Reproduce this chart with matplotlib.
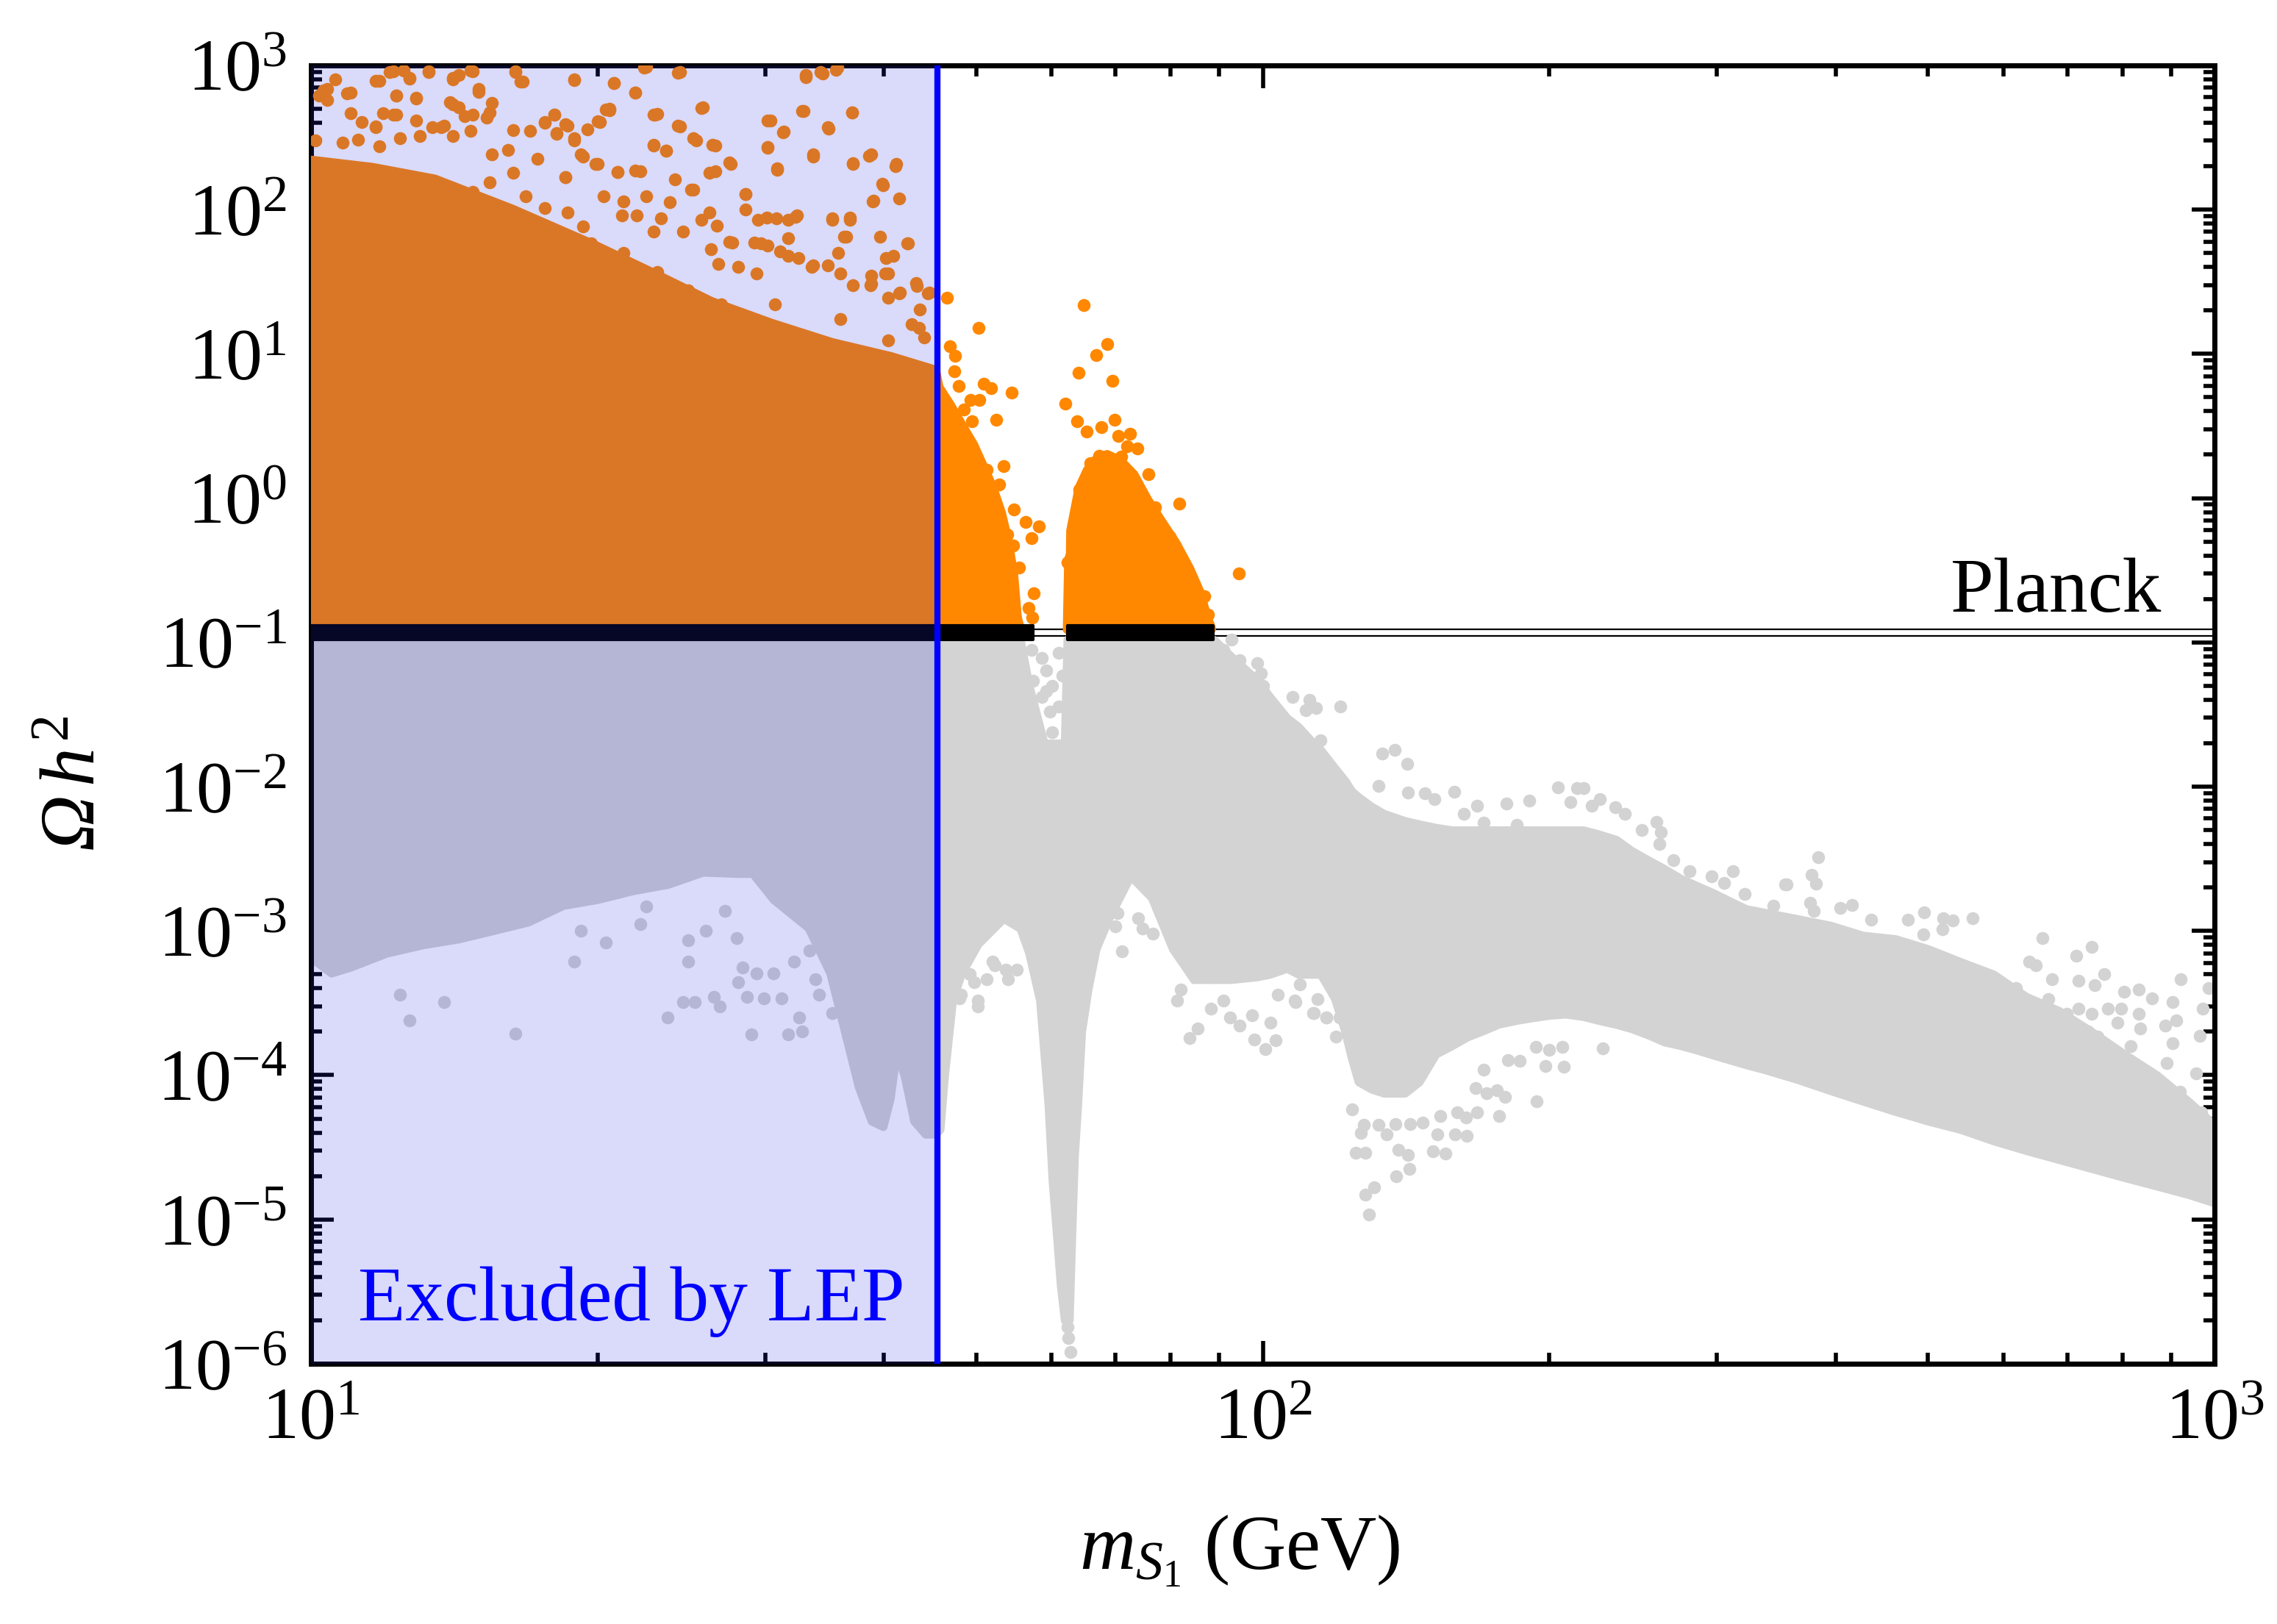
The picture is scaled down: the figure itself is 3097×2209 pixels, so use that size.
import numpy as np
import matplotlib
matplotlib.use("Agg")
import matplotlib.pyplot as plt
from matplotlib.ticker import LogLocator, NullFormatter

plt.rcParams['font.family'] = ['Liberation Serif', 'DejaVu Serif']
plt.rcParams['mathtext.fontset'] = 'custom'
plt.rcParams['mathtext.rm'] = 'Liberation Serif'
plt.rcParams['mathtext.it'] = 'Liberation Serif:italic'
plt.rcParams['mathtext.bf'] = 'Liberation Serif:bold'
plt.rcParams['mathtext.cal'] = 'Liberation Serif:italic'   # used for the italic Omega
plt.rcParams['axes.unicode_minus'] = False

# ---- data ---------------------------------------------------------------
planck_lo, planck_hi = 0.111, 0.123
lep_limit = 45.5

# dense grey cloud (below Planck), light side: mass, lower edge, upper edge
gray_l_m = [10.0, 10.5, 11.0, 12.0, 13.1, 14.3, 15.5, 16.9, 18.4, 20.0, 21.8, 23.7,
            25.8, 28.1, 29.1, 30.6, 33.3, 35.1, 36.3, 37.6, 38.8, 39.9, 40.6, 41.2,
            42.0, 43.0, 44.2, 45.3, 45.8, 46.3, 47.2, 48.2, 50.2, 53.4, 55.6, 56.8,
            58.3, 58.9, 59.5, 60.1, 60.7, 61.3, 61.9, 62.3, 62.6, 63.0, 63.4, 63.9,
            64.5, 65.5, 66.8, 68.9, 72.6, 76.4, 80.4, 84.6]
gray_l_lo = [6.5e-4, 5.1e-4, 5.6e-4, 7.0e-4, 8.0e-4, 8.8e-4, 1.0e-3, 1.15e-3, 1.5e-3,
             1.65e-3, 1.9e-3, 2.1e-3, 2.55e-3, 2.5e-3, 2.5e-3, 1.65e-3, 1.05e-3, 5.1e-4,
             2.1e-4, 8.3e-5, 4.8e-5, 4.4e-5, 6.9e-5, 1.43e-4, 1.0e-4, 4.8e-5, 3.9e-5,
             3.9e-5, 4.2e-5, 1.0e-4, 3.3e-4, 5.0e-4, 8.1e-4, 1.22e-3, 1.04e-3, 7.0e-4,
             3.3e-4, 1.44e-4, 6.3e-5, 1.84e-5, 8.1e-6, 3.5e-6, 2.0e-6, 2.0e-6, 2.0e-6,
             8.1e-6, 2.8e-5, 6.3e-5, 2.0e-4, 3.9e-4, 7.5e-4, 1.22e-3, 2.4e-3, 1.7e-3,
             7.5e-4, 4.6e-4]
gray_l_hi = [0.105] * 35 + [0.05, 0.026, 0.02, 0.02, 0.02, 0.02, 0.02, 0.02] + [0.105] * 13

# dense grey cloud, heavy side
gray_r_m = [88.9, 92.6, 98.6, 101.7, 106, 109, 113, 115, 119, 122,
            124, 126, 130, 134, 141, 146, 152, 158, 164, 171,
            177, 185, 192, 200, 208, 217, 225, 235, 244, 254,
            264, 275, 286, 297, 310, 322, 337, 365, 395, 427,
            462, 500, 541, 586, 634, 686, 743, 804, 870, 941, 1000]
gray_r_lo = [4.6e-4, 4.6e-4, 4.8e-4, 5.0e-4, 5.5e-4, 5.0e-4, 5.0e-4, 5.0e-4, 3.4e-4, 2.0e-4,
             1.3e-4, 9.0e-5, 8.0e-5, 7.5e-5, 7.5e-5, 9.0e-5, 1.4e-4, 1.6e-4, 1.84e-4, 2.05e-4,
             2.26e-4, 2.4e-4, 2.5e-4, 2.6e-4, 2.65e-4, 2.55e-4, 2.4e-4, 2.25e-4, 2.1e-4, 1.9e-4,
             1.7e-4, 1.6e-4, 1.49e-4, 1.38e-4, 1.27e-4, 1.18e-4, 1.09e-4, 9.3e-5, 7.8e-5, 6.6e-5,
             5.6e-5, 4.8e-5, 4.2e-5, 3.5e-5, 3.0e-5, 2.6e-5, 2.25e-5, 1.95e-5, 1.7e-5, 1.48e-5,
             1.3e-5]
gray_r_hi = [0.104, 0.080, 0.055, 0.042, 0.030, 0.026, 0.020, 0.018, 0.0135, 0.011,
             9.3e-3, 8.5e-3, 7.3e-3, 6.5e-3, 5.8e-3, 5.5e-3, 5.2e-3, 5.0e-3, 5.0e-3, 5.0e-3,
             5.0e-3, 5.0e-3, 5.0e-3, 5.0e-3, 5.0e-3, 5.0e-3, 4.7e-3, 4.3e-3, 3.6e-3, 3.1e-3,
             2.7e-3, 2.3e-3, 2.05e-3, 1.84e-3, 1.6e-3, 1.42e-3, 1.34e-3, 1.21e-3, 1.09e-3, 9.3e-4,
             8.8e-4, 7.5e-4, 6.1e-4, 5.0e-4, 3.5e-4, 2.8e-4, 2.0e-4, 1.4e-4, 1.0e-4, 6.5e-5,
             4.5e-5]

# loose grey points around the dense region
gray_pts_m = [57.1, 58.6, 59.2, 61.0, 60.1, 58.6, 61.0, 59.7, 60.1, 59.2, 57.4, 61.6,
              92.7, 90.9, 94.6, 99.6, 100, 98.6, 107.5, 112, 110.9, 113.7, 120.6,
              48.2, 49.2, 50.2, 51.3, 52.0, 54.0, 55.1, 48.0, 50.2, 52.3, 53.7, 49.7,
              83.7, 85.4, 88.2, 92.3, 94.6, 97.9, 100.6, 103.2, 101.8, 97.5, 90.9, 81.2,
              82.0, 103.7, 108, 113.2, 116.7, 120.8, 70.0, 71.1, 74.8, 76.7, 70.4, 74.0,
              # 110-230 GeV, below
              124.1, 128.2, 125.2, 130.8, 128.2, 129.2, 138.1, 142.5, 142.1, 138.8, 151,
              155.6, 152.6, 159.2, 163.9, 135, 126.7, 127.6, 132.3, 137.8, 142.7, 147.2,
              153.7, 160.1, 163.6, 167.9, 177, 194, 179.6, 171.8, 167.2, 176.1, 170.6,
              186.2, 181.1, 198.3, 207.3, 227.7, 206.4, 199.8, 193.7, 119.4, 120.3, 116.6,
              112.9, 108.3, 114.1, 109.4,
              # 110-360 GeV, above
              115, 133.5, 137.5, 141.9, 132.4, 142.1, 148, 151.5, 158.8, 204.2, 213.9,
              217.4, 180.2, 190.4, 226, 210.6, 221.8, 234.6, 240, 259, 250, 262, 261, 270,
              312, 354, 321, 296, 305, 281, 344, 167.9, 162.6, 170.6, 184.8,
              # 350-1000 GeV
              383, 377, 381, 355, 376, 379, 404, 416, 436, 476, 495, 519, 531, 557, 518,
              494, 659, 743, 716, 766, 921, 859, 832, 772, 797, 832, 790, 835, 887, 912,
              904, 816, 754, 736, 705, 699, 719, 743, 669, 664, 654, 586, 604, 619, 639,
              649, 675, 719, 748, 804, 754, 794, 826, 891, 920, 883, 855, 835, 778, 736,
              713, 948, 968, 986, 964, 920, 883, 956, 964, 972, 986, 903,
              # inside the LEP band
              12.4, 12.7, 13.8, 16.4, 18.9, 19.2, 20.4, 22.2, 22.5, 23.7, 24.6, 25.3, 24.9,
              24.9, 26.5, 26.9, 28.1, 28.0, 28.7, 29.0, 29.9, 30.6, 31.2, 31.7, 32.6, 32.8,
              33.9, 34.2, 35.3, 32.2, 33.4, 28.4, 29.4, 26.0, 27.2, 62.5, 62.8, 62.3]
gray_pts_om = [0.089, 0.078, 0.064, 0.085, 0.050, 0.042, 0.036, 0.033, 0.0237, 0.046,
               0.054, 0.059,
               0.104, 0.089, 0.075, 0.061, 0.050, 0.072, 0.042, 0.040, 0.034, 0.035, 0.036,
               3.6e-4, 5.0e-4, 3.3e-4, 4.6e-4, 6.1e-4, 4.6e-4, 5.4e-4, 3.4e-4, 3.0e-4,
               5.8e-4, 5.4e-4, 4.4e-4,
               1.8e-4, 2.1e-4, 2.9e-4, 2.5e-4, 2.2e-4, 1.77e-4, 1.52e-4, 1.75e-4, 2.3e-4,
               2.6e-4, 3.3e-4, 3.3e-4, 3.9e-4, 3.6e-4, 3.3e-4, 2.7e-4, 2.5e-4, 2.5e-4,
               1.08e-3, 7.2e-4, 1.04e-3, 9.6e-4, 1.33e-3, 1.22e-3,
               5.8e-5, 2.9e-5, 2.9e-5, 1.66e-5, 1.48e-5, 1.08e-5, 1.98e-5, 2.25e-5, 2.8e-5,
               3.05e-5, 2.96e-5, 2.87e-5, 3.9e-5, 3.9e-5, 3.8e-5, 3.9e-5, 4.0e-5, 4.5e-5,
               4.5e-5, 4.6e-5, 4.6e-5, 4.7e-5, 5.2e-5, 5.5e-5, 5.1e-5, 5.5e-5, 5.2e-5,
               6.6e-5, 7.1e-5, 7.5e-5, 8.1e-5, 7.9e-5, 1.09e-4, 1.26e-4, 1.27e-4, 1.16e-4,
               1.15e-4, 1.54e-4, 1.57e-4, 1.49e-4, 1.57e-4, 1.84e-4, 2.5e-4, 2.5e-4,
               2.7e-4, 3.2e-4, 3.35e-4, 4.24e-4,
               0.021, 0.0170, 0.0180, 0.0143, 0.0101, 9.1e-3, 9.0e-3, 8.2e-3, 9.2e-3,
               9.9e-3, 9.8e-3, 9.8e-3, 7.6e-3, 8.0e-3, 8.2e-3, 7.8e-3, 7.4e-3, 7.2e-3,
               6.5e-3, 5.7e-3, 5.0e-3, 4.85e-3, 4.0e-3, 3.1e-3, 2.6e-3, 2.1e-3, 1.81e-3,
               2.4e-3, 2.15e-3, 2.6e-3, 1.49e-3, 7.4e-3, 6.5e-3, 5.6e-3, 5.4e-3,
               3.24e-3, 2.45e-3, 2.13e-3, 2.1e-3, 1.57e-3, 1.38e-3, 1.44e-3, 1.51e-3, 1.2e-3,
               1.2e-3, 1.34e-3, 1.23e-3, 1.18e-3, 1.23e-3, 1.03e-3, 9.5e-4, 8.9e-4, 7.7e-4,
               6.7e-4, 5.0e-4, 4.6e-4, 3.4e-4, 3.9e-4, 2.9e-4, 2.9e-4, 2.65e-4, 2.3e-4,
               2.1e-4, 2.2e-4, 2.4e-4, 1.67e-4, 1.59e-4, 1.84e-4, 2.0e-4, 2.0e-4, 2.65e-4,
               2.9e-4, 2.65e-4, 3.35e-4, 2.65e-4, 3.0e-4, 2.9e-4, 3.4e-4, 4.0e-4, 6.1e-4,
               5.8e-4, 4.6e-4, 4.5e-4, 4.2e-4, 3.8e-4, 1.21e-4, 1.09e-4, 1.18e-4, 1.21e-4,
               7.7e-5, 6.4e-5, 6.1e-5, 6.4e-5, 8.8e-5, 1.34e-4, 1.57e-4, 5.5e-5, 5.5e-5,
               4.5e-5, 3.4e-5, 3.8e-5, 4.6e-5, 1.03e-4, 1.88e-4, 2.9e-4, 4.0e-4, 3.2e-4,
               3.6e-4, 2.4e-4, 3.2e-4, 1.93e-4, 6.1e-4, 1.0e-3, 8.3e-4, 1.12e-3, 1.48e-3,
               2.5e-4, 3.2e-4, 3.2e-4, 6.1e-4, 8.6e-4, 3.5e-4, 3.0e-4, 4.4e-4, 8.9e-4,
               3.5e-4, 1.91e-4, 3.4e-4, 5.1e-4, 3.4e-4, 1.91e-4, 2.5e-4, 2.0e-4, 4.6e-4,
               3.6e-4, 2.7e-4, 6.1e-4, 7.3e-4, 5.6e-4, 5.1e-4, 1.0e-3, 1.38e-3,
               1.5e-6, 1.2e-6, 1.8e-6]

# dense orange cloud (above Planck): solid core and speckled fringe
orange_a_m = [10.0, 11.6, 13.5, 16.3, 19.8, 22.9, 26.4, 30.5, 35.3, 40.7, 45.5,
              45.9, 47.2, 48.5, 49.9, 51.3, 52.3, 53.4, 54.3, 55.0, 55.6]
orange_a_top = [100, 87, 68, 42, 25.7, 14, 7.6, 4.0, 2.9, 2.15, 1.6,
                2.5, 2.2, 1.9, 1.4, 1.1, 0.75, 0.45, 0.26, 0.165, 0.127]
orange_a_fringe = [230, 205, 170, 105, 60, 38, 24, 17, 12.5, 10, 8,
                   6.0, 4.5, 3.3, 2.4, 1.6, 1.2, 0.8, 0.5, 0.3, 0.13]
orange_b_m = [62.2, 62.4, 63.7, 65.0, 66.8, 68.6, 71.0, 73.5, 76.0, 78.7, 81.4, 84.2,
              86.5, 88.3]
orange_b_top = [0.127, 0.38, 0.55, 0.75, 0.84, 0.88, 0.88, 0.75, 0.55, 0.45, 0.34,
                0.24, 0.18, 0.127]
orange_b_fringe = [0.13, 0.6, 1.2, 1.6, 2.0, 2.1, 1.9, 1.5, 1.0, 0.7, 0.5,
                   0.33, 0.22, 0.13]

# loose orange points
orange_pts_m = [10.2, 10.4, 10.9, 11.7, 12.2, 12.7, 13.3, 14.1, 14.7, 15.0, 16.4, 16.7,
                18.9, 20.8, 21.9, 22.5, 24.4, 33.1, 34.3, 35.7, 12.3, 12.9, 14.0, 14.3,
                14.8, 15.4, 17.6, 18.0, 18.5, 20.0, 20.4, 20.6, 22.9, 23.1, 25.8, 30.2,
                31.3, 32.8, 34.9, 37.0, 10.1, 10.8, 11.2, 11.7, 11.8, 12.2, 12.4, 13.0,
                13.7, 14.1, 14.7, 15.5, 16.1, 17.0, 17.3, 18.1, 18.5, 18.9, 19.2, 19.9,
                21.0, 21.9, 22.9, 23.6, 24.4, 25.4, 26.4, 27.5, 30.2, 30.9, 33.7, 37.1,
                38.8, 41.1, 28.6, 30.1, 31.7, 32.4, 35.3, 36.8, 38.9, 39.9, 42.3, 40.9,
                43.2, 44.6, 41.6, 40.1, 38.7, 36.5, 33.7, 36.0, 37.1, 31.7, 29.7, 27.5,
                26.2, 25.2, 23.8, 22.5, 21.3, 20.3, 19.3, 18.6, 17.6, 16.8, 16.3, 15.4,
                14.8, 29.2, 30.7, 33.2, 36.0, 38.9, 42.2, 43.5, 34.3, 27.0, 24.9, 23.1,
                21.3, 19.7, 18.2, 37.8, 42.9, 31.7, 27.9, 25.4, 22.3,
                12.1, 12.5, 13.3, 14.8, 16.4, 16.6, 18.9, 20.8, 21.9, 24.3, 33.1, 34.5,
                35.6, 22.4, 10.6, 11.8, 12.7, 14.1, 14.3, 11.0, 12.3, 12.9, 15.0, 15.5,
                14.1, 10.4, 10.3, 11.0, 11.9, 12.3, 11.3, 11.7, 12.9, 13.4, 13.8, 14.5,
                15.3, 18.0, 17.6, 18.6, 20.6, 20.1, 23.0, 25.7, 30.4, 32.9, 37.0, 31.4,
                35.0, 24.3, 16.3, 18.1, 19.5, 18.9, 25.2, 26.6, 22.9, 30.2, 33.7, 38.6,
                23.6, 41.2, 37.1, 30.9, 27.6, 26.6, 22.2, 21.0, 20.0, 19.3, 18.5, 24.1,
                25.1, 26.2, 28.6, 39.8, 41.5, 39.0, 28.6, 29.5, 35.3, 36.8, 39.6, 42.4,
                36.3, 31.7, 30.8, 32.3, 26.7, 25.7, 24.6, 23.3, 21.2, 22.0, 22.9, 27.7,
                29.2, 30.2, 26.3, 26.8, 28.1, 29.4, 31.1, 32.5, 33.6, 34.9, 35.8, 40.2,
                40.4, 38.8, 38.8, 41.5, 43.3, 44.5, 40.4, 43.6, 42.8, 44.1, 40.4,
                46.6, 46.9, 47.5, 47.4, 50.3, 54.5, 47.9, 50.9, 51.8, 49.3, 50.4, 52.5,
                48.5, 49.5, 53.4, 54.8, 56.3, 58.2, 53.9, 57.1, 54.7, 55.4, 57.5, 56.7,
                57.2, 52.8, 51.3,
                64.8, 62.0, 63.8, 65.3, 67.7, 68.6, 66.8, 64.0, 69.5, 69.9, 72.5, 70.5,
                73.8, 67.3, 65.9, 67.5, 69.5, 75.8, 64.1, 65.5, 81.7, 74.3, 77.0, 79.8,
                81.7, 82.8, 83.6, 86.8, 87.5, 94.4, 62.4, 63.7, 72.0, 71.0]
orange_pts_om = [615, 687, 638, 781, 907, 811, 907, 798, 914, 687, 907, 770,
                 787, 752, 647, 977, 894, 829, 894, 963, 615, 592, 557, 509,
                 456, 473, 401, 456, 392, 408, 491, 502, 456, 462, 509, 413,
                 343, 480, 372, 473, 302, 291, 306, 378, 276, 456, 313, 325,
                 372, 325, 351, 241, 260, 351, 224, 338, 168, 302, 241, 208,
                 182, 186, 280, 256, 378, 302, 280, 211, 270, 193, 241, 208,
                 241, 200, 128, 88, 85, 91, 85, 88, 114, 148, 58, 48,
                 31, 26.5, 26.5, 36, 30, 65, 41, 36, 30, 48, 58, 60,
                 95, 138, 112, 123, 114, 123, 76, 95, 102, 123, 179, 154,
                 132, 15.1, 22, 13, 17.5, 9.6, 6.2, 15.1, 8.3, 22, 27.5, 37,
                 50, 58, 58, 4.9, 3.9, 9.6, 13, 17.5, 23.7,
                 897, 919, 897, 906, 897, 768, 794, 757, 644, 888, 855, 875,
                 933, 965, 794, 783, 813, 813, 855, 644, 614, 585, 653, 551,
                 538, 578, 670, 465, 465, 454, 402, 373, 416, 373, 383, 443,
                 432, 454, 402, 383, 489, 406, 454, 508, 416, 481, 472, 347,
                 365, 383, 356, 336, 359, 311, 311, 279, 279, 269, 232, 235,
                 256, 208, 210, 189, 206, 185, 185, 182, 206, 232, 167, 162,
                 138, 180, 128, 150, 119, 115, 99.5, 85, 87, 85, 65, 58,
                 65, 63, 87, 89, 77, 85, 70, 87, 91, 91, 70, 59,
                 59, 56, 53, 42, 40, 36, 51, 46, 40, 41, 50, 46,
                 36, 35, 30.5, 26.4, 29.5, 26.4, 24.5, 20.2, 16.0, 13.0, 12.4,
                 24.5, 11.3, 9.7, 7.6, 15.2, 5.4, 6.0, 6.2, 5.8, 4.8, 4.8, 3.5,
                 4.1, 3.4, 1.67, 0.83, 0.68, 0.64, 0.56, 0.53, 0.47, 0.33, 0.22, 0.174,
                 0.148, 1.24, 1.57,
                 21.8, 4.5, 3.4, 2.9, 3.1, 11.7, 9.8, 7.4, 6.5, 3.5, 2.8, 2.7,
                 2.2, 1.96, 1.74, 1.45, 1.57, 1.47, 1.15, 0.98, 0.92, 1.06, 0.86, 0.54,
                 0.36, 0.29, 0.23, 0.21, 0.156, 0.30, 0.36, 0.32, 2.3, 1.93]

# points satisfying the Planck relic density (black band)
planck_seg_a = [10.0, 57.4]
planck_seg_b = [62.3, 88.6]
band_lo, band_hi = 0.105, 0.131

GRAY = '#d3d3d3'
ORANGE = '#ff8800'
BLUE = '#0000ff'
DOT = 40          # marker area of the scan points
EDGE = 4.0        # outline of the dense regions ~ one marker radius

fig = plt.figure(figsize=(15.485, 11.045), dpi=200)
ax = fig.add_axes([0.1366, 0.1603, 0.8360, 0.7995])

# grey cloud
for xs, lo, hi in ((gray_l_m, gray_l_lo, gray_l_hi), (gray_r_m, gray_r_lo, gray_r_hi)):
    ax.fill_between(xs, lo, hi, facecolor=GRAY, edgecolor=GRAY, lw=EDGE, zorder=2)
# bridge between the two grey tables
ax.fill_between([gray_l_m[-1], gray_r_m[0]], [gray_l_lo[-1], gray_r_lo[0]],
                [gray_l_hi[-1], gray_r_hi[0]], facecolor=GRAY, edgecolor=GRAY, lw=EDGE,
                zorder=2)
ax.scatter(gray_pts_m, gray_pts_om, s=DOT, c=GRAY, lw=0, zorder=2)

# orange cloud: core plus speckled fringe, same colour
for xs, top, fringe in ((orange_a_m, orange_a_top, orange_a_fringe),
                        (orange_b_m, orange_b_top, orange_b_fringe)):
    ax.fill_between(xs, planck_hi, fringe, facecolor=ORANGE, edgecolor=ORANGE, lw=2,
                    zorder=3)
    ax.fill_between(xs, planck_hi, top, facecolor=ORANGE, edgecolor=ORANGE, lw=EDGE,
                    zorder=3)
ax.scatter(orange_pts_m, orange_pts_om, s=DOT, c=ORANGE, lw=0, zorder=3)

# Planck band
ax.axhline(planck_lo, color='k', lw=0.8, zorder=1)
ax.axhline(planck_hi, color='k', lw=0.8, zorder=1)
for seg in (planck_seg_a, planck_seg_b):
    ax.fill_between(seg, band_lo, band_hi, facecolor='k', edgecolor='k', lw=1.5, zorder=4)

# LEP exclusion
ax.axvspan(10, lep_limit, facecolor=(0.15, 0.15, 0.89), alpha=0.17, lw=0, zorder=5)
ax.axvline(lep_limit, color=BLUE, lw=3, zorder=6)

ax.text(11.2, 2.0e-6, 'Excluded by LEP', color=BLUE, fontsize=38, ha='left',
        va='baseline', zorder=7)
ax.text(880, 0.163, 'Planck', color='k', fontsize=38, ha='right', va='baseline', zorder=7)

ax.set_xscale('log')
ax.set_yscale('log')
ax.set_xlim(10, 1000)
ax.set_ylim(1e-6, 1e3)

ax.xaxis.set_major_locator(LogLocator(base=10, numticks=20))
ax.yaxis.set_major_locator(LogLocator(base=10, numticks=20))
ax.xaxis.set_minor_locator(LogLocator(base=10, subs=np.arange(2, 10), numticks=100))
ax.yaxis.set_minor_locator(LogLocator(base=10, subs=np.arange(2, 10), numticks=100))
ax.xaxis.set_minor_formatter(NullFormatter())
ax.yaxis.set_minor_formatter(NullFormatter())

ax.tick_params(which='both', direction='in', top=True, right=True, width=2,
               labelsize=36, pad=12)
ax.tick_params(which='major', length=11)
ax.tick_params(which='minor', length=5.5)
for sp in ax.spines.values():
    sp.set_linewidth(2.5)

ax.set_xlabel(r'$m_{S_1}$ (GeV)', fontsize=38)
ax.set_ylabel(r'$\mathcal{\Omega}\, h^{2}$', fontsize=38)
ax.xaxis.set_label_coords(0.488, -0.115)
ax.yaxis.set_label_coords(-0.105, 0.447)

fig.savefig('out.png', dpi=200)
